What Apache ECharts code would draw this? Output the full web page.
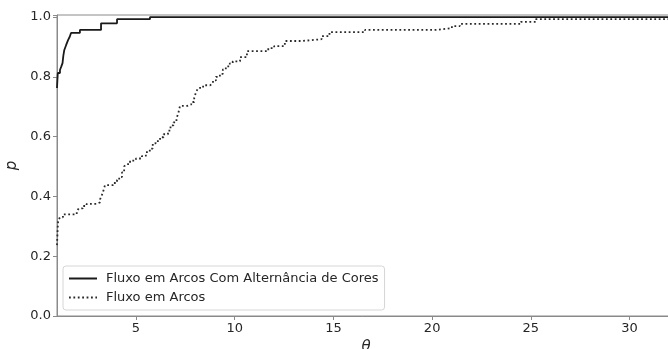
<!DOCTYPE html>
<html>
<head>
<meta charset="utf-8">
<script src="https://cdn.jsdelivr.net/npm/echarts@6/dist/echarts.min.js"></script>
<style>
html,body{margin:0;padding:0;background:#fff;}
#chart{width:668px;height:349px;}
</style>
</head>
<body>
<div id="chart"></div>
<script>
// Series names
const seriesNames = ['Fluxo em Arcos Com Alternância de Cores', 'Fluxo em Arcos'];
// Solid step curve: [theta, p]
const solidData = [
  [1.0, 0.763], [1.02, 0.79], [1.04, 0.813], [1.15, 0.823], [1.22, 0.835],
  [1.28, 0.846], [1.32, 0.87], [1.37, 0.89], [1.46, 0.906], [1.56, 0.923],
  [1.65, 0.935], [1.71, 0.947], [2.16, 0.957], [3.23, 0.979], [4.04, 0.993],
  [5.71, 1.0], [32.3, 1.0]
];
// Dotted step curve: [theta, p]
const dottedData = [
  [1.0, 0.237], [1.02, 0.27], [1.04, 0.30], [1.06, 0.32], [1.15, 0.33],
  [1.3, 0.34], [2.0, 0.35], [2.1, 0.36], [2.3, 0.368], [2.5, 0.375],
  [3.0, 0.38], [3.18, 0.39], [3.25, 0.40], [3.33, 0.415], [3.43, 0.438],
  [3.84, 0.445], [4.04, 0.455], [4.15, 0.465], [4.29, 0.48], [4.4, 0.50],
  [4.5, 0.508], [4.7, 0.52], [5.0, 0.527], [5.3, 0.535], [5.5, 0.548],
  [5.7, 0.56], [5.85, 0.578], [6.0, 0.585], [6.22, 0.598], [6.4, 0.608],
  [6.62, 0.62], [6.75, 0.638], [6.9, 0.648], [7.05, 0.66], [7.15, 0.68],
  [7.23, 0.703], [7.6, 0.708], [7.8, 0.716], [7.95, 0.73], [8.05, 0.75],
  [8.15, 0.763], [8.4, 0.772], [8.75, 0.778], [8.9, 0.788], [9.05, 0.80],
  [9.25, 0.81], [9.4, 0.825], [9.55, 0.835], [9.75, 0.845], [9.9, 0.852],
  [10.27, 0.866], [10.62, 0.886], [11.7, 0.896], [12.0, 0.903], [12.54, 0.92],
  [13.4, 0.926], [14.4, 0.936], [14.8, 0.95], [16.6, 0.957], [20.2, 0.963],
  [21.0, 0.97], [21.4, 0.977], [24.5, 0.984], [25.25, 0.993], [32.3, 0.993]
];
// Tick labels
const xTicks = [5, 10, 15, 20, 25, 30];
const yTicks = [0, 0.2, 0.4, 0.6, 0.8, 1.0];
const xName = 'θ';
const yName = 'p';

const chart = echarts.init(document.getElementById('chart'), null, {renderer: 'canvas'});
const textColor = '#262626';
const font = 'DejaVu Sans';
const option = {
  animation: false,
  backgroundColor: '#ffffff',
  grid: {
    left: 57, top: 15, right: -7, bottom: 33,
    outerBoundsMode: 'none', containLabel: false,
    show: true, borderColor: '#8a8a8a', borderWidth: 1, backgroundColor: 'transparent'
  },
  legend: {
    left: 63, top: 266,
    orient: 'vertical',
    itemWidth: 28, itemHeight: 10, itemGap: 6,
    padding: [6, 6, 6, 5],
    borderColor: '#d6d6d6', borderWidth: 1, borderRadius: 3,
    backgroundColor: 'rgba(255,255,255,0.85)',
    itemStyle: {opacity: 0},
    textStyle: {fontFamily: font, fontSize: 13, color: textColor, padding: [0, 0, 0, 4]},
    data: seriesNames
  },
  xAxis: {
    type: 'value', min: 1, max: 32.3,
    name: xName, nameLocation: 'middle', nameGap: 22,
    nameTextStyle: {fontFamily: font, fontSize: 15, fontStyle: 'italic', color: textColor},
    axisLine: {show: true, lineStyle: {color: '#8a8a8a', width: 1}},
    axisTick: {show: true, length: 4, inside: false, customValues: xTicks, lineStyle: {color: '#8a8a8a'}},
    axisLabel: {customValues: xTicks, fontFamily: font, fontSize: 13, color: textColor, margin: 6},
    splitLine: {show: false}
  },
  yAxis: {
    type: 'value', min: 0, max: 1.007, interval: 0.2,
    name: yName, nameLocation: 'middle', nameGap: 30, nameRotate: 90,
    nameTextStyle: {fontFamily: font, fontSize: 15, fontStyle: 'italic', color: textColor},
    axisLine: {show: true, lineStyle: {color: '#8a8a8a', width: 1}},
    axisTick: {show: true, length: 4, inside: false, lineStyle: {color: '#8a8a8a'}},
    axisLabel: {fontFamily: font, fontSize: 13, color: textColor, margin: 6,
      formatter: v => yTicks.some(t => Math.abs(t - v) < 1e-9) ? v.toFixed(1) : ''},
    splitLine: {show: false}
  },
  series: [
    {
      name: seriesNames[0], type: 'line', step: 'end', data: solidData,
      showSymbol: false, symbol: 'none', clip: true,
      lineStyle: {color: '#1a1a1a', width: 1.8, type: 'solid'},
      itemStyle: {color: '#1a1a1a'}
    },
    {
      name: seriesNames[1], type: 'line', step: 'end', data: dottedData,
      showSymbol: false, symbol: 'none', clip: true,
      lineStyle: {color: '#2a2a2a', width: 1.8, type: [1.8, 2.6]},
      itemStyle: {color: '#2a2a2a'}
    }
  ]
};
chart.setOption(option);
</script>
</body>
</html>
